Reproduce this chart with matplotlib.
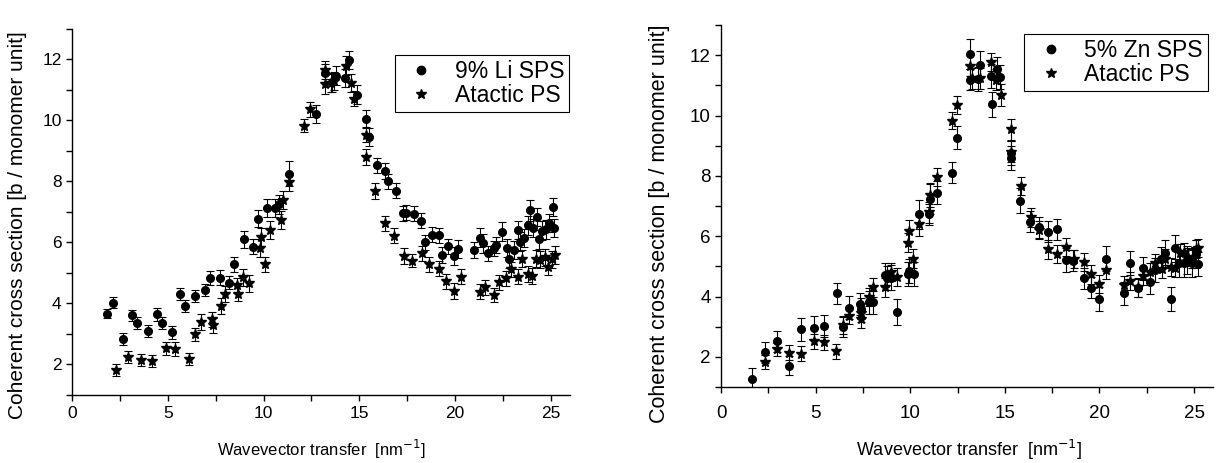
import matplotlib
matplotlib.use("Agg")
import matplotlib.pyplot as plt
from matplotlib.ticker import MultipleLocator
from matplotlib.lines import Line2D

plt.rcParams['font.family'] = ['Liberation Sans', 'DejaVu Sans']

# ---- left panel: 9% Li SPS vs atactic PS ----
li_q = [1.84, 2.14, 2.66, 3.14, 3.40, 3.96, 4.43, 4.69, 5.24, 5.64, 5.90, 6.42, 6.94, 7.19,
        7.73, 8.21, 8.45, 8.96, 9.43, 9.69, 10.17, 10.57, 10.82, 11.32, 12.73, 13.21, 13.56,
        13.80, 14.27, 14.46, 14.87, 15.33, 15.50, 15.92, 16.34, 16.51, 16.89, 17.27, 17.45,
        17.85, 18.23, 18.40, 18.77, 19.15, 19.32, 19.63, 19.96, 20.16, 20.97, 21.32, 21.46,
        21.70, 22.01, 22.15, 22.42, 22.69, 22.80, 23.05, 23.28, 23.40, 23.59, 23.80, 23.91,
        24.08, 24.29, 24.36, 24.53, 24.74, 24.91, 25.09, 25.16]
li_s = [3.67, 4.03, 2.83, 3.62, 3.35, 3.11, 3.64, 3.37, 3.05, 4.30, 3.91, 4.25, 4.45, 4.84,
        4.84, 4.68, 5.29, 6.10, 5.86, 6.78, 7.12, 7.12, 7.25, 8.26, 10.22, 11.56, 11.25,
        11.47, 11.40, 11.98, 10.85, 10.06, 9.46, 8.53, 8.34, 8.00, 7.70, 6.96, 6.98,
        6.94, 6.71, 6.01, 6.26, 6.24, 5.59, 5.87, 5.56, 5.79, 5.75, 6.16, 5.97,
        5.64, 5.81, 5.92, 6.36, 5.81, 5.45, 5.75, 6.41, 6.03, 6.14, 6.56, 7.05,
        6.47, 6.84, 6.10, 6.39, 6.43, 6.65, 7.17, 6.48]
li_err = [0.15, 0.18, 0.2, 0.18, 0.2, 0.2, 0.2, 0.2, 0.22, 0.2, 0.2, 0.2, 0.2, 0.22,
          0.25, 0.22, 0.25, 0.28, 0.25, 0.28, 0.3, 0.3, 0.3, 0.4, 0.3, 0.3, 0.3,
          0.3, 0.3, 0.3, 0.3, 0.3, 0.3, 0.25, 0.25, 0.25, 0.25, 0.25, 0.25,
          0.25, 0.25, 0.25, 0.25, 0.25, 0.25, 0.25, 0.3, 0.3, 0.25, 0.3, 0.3,
          0.25, 0.25, 0.25, 0.3, 0.3, 0.3, 0.3, 0.3, 0.3, 0.3, 0.3, 0.35,
          0.3, 0.3, 0.3, 0.3, 0.3, 0.3, 0.3, 0.3]

aps_q_l = [2.31, 2.90, 3.58, 4.20, 4.88, 5.40, 6.09, 6.42, 6.72, 7.31, 7.34, 7.78, 7.99,
           8.63, 8.65, 8.94, 9.22, 9.79, 9.84, 10.09, 10.36, 10.89, 10.99, 11.32, 12.13,
           12.41, 13.21, 13.22, 13.51, 13.68, 14.29, 14.55, 14.74, 15.33, 15.33, 15.82,
           16.33, 16.80, 17.31, 17.73, 18.25, 18.63, 19.15, 19.50, 19.96, 20.33, 21.28,
           21.58, 22.01, 22.27, 22.66, 22.92, 23.26, 23.51, 23.80, 24.00, 24.21, 24.42,
           24.70, 24.84, 25.05, 25.19]
aps_s_l = [1.81, 2.25, 2.16, 2.12, 2.53, 2.51, 2.17, 2.99, 3.39, 3.48, 3.29, 3.92, 4.31,
           4.60, 4.32, 4.86, 4.66, 5.81, 6.19, 5.28, 6.42, 6.74, 7.40, 7.98, 9.83,
           10.37, 11.65, 11.18, 11.23, 11.29, 11.80, 11.23, 10.72, 9.54, 8.80, 7.69,
           6.63, 6.22, 5.56, 5.40, 5.64, 5.28, 5.14, 4.73, 4.41, 4.88, 4.39,
           4.53, 4.28, 4.69, 4.83, 5.12, 4.88, 5.46, 4.97, 4.90, 5.47, 5.43,
           5.51, 5.21, 5.45, 5.59]
aps_err_l = [0.2, 0.2, 0.2, 0.2, 0.22, 0.22, 0.2, 0.22, 0.25, 0.25, 0.25, 0.25, 0.25,
             0.25, 0.25, 0.28, 0.28, 0.3, 0.3, 0.25, 0.3, 0.3, 0.3, 0.3, 0.22,
             0.25, 0.3, 0.3, 0.3, 0.3, 0.3, 0.3, 0.25, 0.25, 0.25, 0.25,
             0.25, 0.25, 0.25, 0.22, 0.25, 0.25, 0.25, 0.25, 0.25, 0.25, 0.25,
             0.25, 0.22, 0.25, 0.25, 0.25, 0.25, 0.28, 0.25, 0.25, 0.28, 0.28,
             0.28, 0.28, 0.28, 0.3]

# ---- right panel: 5% Zn SPS vs atactic PS ----
zn_q = [1.62, 2.33, 2.95, 3.62, 4.23, 4.89, 5.43, 6.12, 6.47, 6.77, 7.37, 7.40, 7.80, 8.02,
        8.69, 8.77, 9.01, 9.28, 9.86, 9.91, 10.18, 10.44, 10.99, 11.06, 11.41, 12.22, 12.49,
        13.18, 13.18, 13.60, 13.68, 14.26, 14.30, 14.58, 14.77, 15.35, 15.35, 15.81, 16.33,
        16.81, 17.30, 17.75, 18.21, 18.63, 19.16, 19.53, 19.98, 20.35, 21.30, 21.60, 22.02,
        22.30, 22.68, 22.95, 23.26, 23.47, 23.79, 24.00, 24.23, 24.47, 24.65, 24.88, 25.10,
        25.19]
zn_s = [1.25, 2.15, 2.52, 1.71, 2.91, 2.96, 3.03, 4.10, 3.00, 3.63, 3.75, 3.60, 3.81, 3.81,
        4.71, 4.60, 4.63, 3.49, 4.74, 4.85, 4.74, 6.73, 6.73, 7.23, 7.44, 8.11, 9.27,
        12.03, 11.18, 11.20, 11.68, 11.31, 10.37, 11.54, 11.27, 8.58, 8.75, 7.18, 6.48,
        6.29, 6.15, 6.23, 5.21, 5.19, 4.60, 4.29, 3.91, 5.26, 4.10, 5.10, 4.29,
        4.93, 4.47, 4.88, 5.23, 5.45, 3.91, 5.60, 5.10, 5.10, 5.21, 5.10, 5.41,
        5.08]
zn_err = [0.38, 0.35, 0.35, 0.32, 0.38, 0.38, 0.36, 0.36, 0.35, 0.38, 0.35, 0.35, 0.38, 0.38,
          0.4, 0.4, 0.4, 0.42, 0.4, 0.4, 0.4, 0.48, 0.35, 0.5, 0.38, 0.35, 0.38,
          0.5, 0.35, 0.4, 0.45, 0.4, 0.42, 0.4, 0.4, 0.4, 0.4, 0.42, 0.35,
          0.35, 0.35, 0.35, 0.4, 0.35, 0.35, 0.35, 0.4, 0.4, 0.38, 0.4, 0.3,
          0.38, 0.4, 0.4, 0.42, 0.42, 0.4, 0.45, 0.45, 0.45, 0.45, 0.45, 0.45,
          0.4]

aps_q_r = [2.33, 2.95, 3.62, 4.23, 4.92, 5.43, 6.10, 6.47, 6.75, 7.39, 7.41, 7.80, 8.02,
           8.69, 8.98, 9.29, 9.86, 9.93, 10.14, 10.44, 11.01, 11.06, 11.41, 12.22, 12.49,
           13.18, 13.26, 13.67, 14.28, 14.56, 14.79, 15.35, 15.35, 15.84, 16.37, 16.81,
           17.30, 17.75, 18.25, 18.65, 19.16, 19.53, 19.98, 20.35, 21.30, 21.60, 22.04,
           22.30, 22.68, 22.95, 23.30, 23.47, 23.79, 24.00, 24.26, 24.47, 24.70, 24.88,
           25.10, 25.23]
aps_s_r = [1.83, 2.25, 2.14, 2.11, 2.52, 2.48, 2.19, 3.05, 3.37, 3.44, 3.27, 3.97, 4.30,
           4.30, 4.82, 4.65, 5.79, 6.18, 5.26, 6.40, 6.79, 7.36, 7.97, 9.83, 10.35,
           11.65, 11.24, 11.23, 11.76, 11.18, 10.68, 9.54, 8.80, 7.67, 6.62, 6.20,
           5.56, 5.40, 5.65, 5.23, 5.13, 4.73, 4.40, 4.88, 4.38, 4.51, 4.30,
           4.68, 4.82, 5.10, 4.90, 5.26, 4.99, 4.95, 5.43, 5.48, 5.32, 5.26,
           5.57, 5.60]
aps_err_r = [0.22, 0.22, 0.25, 0.25, 0.25, 0.25, 0.25, 0.28, 0.28, 0.3, 0.3, 0.3, 0.3,
             0.3, 0.3, 0.3, 0.3, 0.35, 0.3, 0.38, 0.35, 0.4, 0.3, 0.28, 0.3,
             0.35, 0.35, 0.35, 0.3, 0.35, 0.35, 0.35, 0.35, 0.3, 0.3, 0.3,
             0.3, 0.3, 0.3, 0.3, 0.3, 0.3, 0.3, 0.3, 0.3, 0.3, 0.3,
             0.3, 0.3, 0.3, 0.3, 0.3, 0.3, 0.3, 0.3, 0.3, 0.3, 0.3,
             0.3, 0.3]

fig = plt.figure(figsize=(12.21, 4.63), dpi=100)
ax1 = fig.add_axes([0.0590, 0.1469, 0.4079, 0.7905])
ax2 = fig.add_axes([0.5905, 0.1641, 0.4029, 0.7819])

ebar = dict(ls='none', color='black', ecolor='black', elinewidth=0.8, capsize=3, capthick=0.8)


def style_axis(ax, tick_fs, xlab_fs, ylab_fs, tick_pad, xlab_xy, ylab_xy):
    ax.set_xlim(0, 26)
    ax.set_ylim(1, 13)
    ax.spines['top'].set_visible(False)
    ax.spines['right'].set_visible(False)
    ax.spines['left'].set_linewidth(1.0)
    ax.spines['bottom'].set_linewidth(1.0)
    ax.xaxis.set_major_locator(MultipleLocator(5))
    ax.xaxis.set_minor_locator(MultipleLocator(2.5))
    ax.yaxis.set_major_locator(MultipleLocator(2))
    ax.yaxis.set_minor_locator(MultipleLocator(1))
    ax.tick_params(which='both', direction='out', length=4, width=1.0, labelsize=tick_fs)
    ax.tick_params(axis='x', pad=tick_pad)
    ax.set_xlabel('Wavevector transfer  [nm$^{-1}$]', fontsize=xlab_fs)
    ax.set_ylabel('Coherent cross section [b / monomer unit]', fontsize=ylab_fs)
    ax.xaxis.set_label_coords(*xlab_xy)
    ax.yaxis.set_label_coords(*ylab_xy)


def add_legend(ax, label, anchor):
    handles = [Line2D([], [], ls='none', marker='o', color='black', ms=6),
               Line2D([], [], ls='none', marker='*', color='black', ms=7.5)]
    leg = ax.legend(handles, [label, 'Atactic PS'], loc='upper right', bbox_to_anchor=anchor,
                    borderaxespad=0, fontsize=16.5, fancybox=False, edgecolor='black',
                    handletextpad=0.5, borderpad=0.22, labelspacing=0.05, handlelength=1.9)
    leg.get_frame().set_linewidth(0.8)
    leg.get_frame().set_alpha(1)


ax1.errorbar(li_q, li_s, yerr=li_err, marker='o', ms=5.5, **ebar)
ax1.errorbar(aps_q_l, aps_s_l, yerr=aps_err_l, marker='*', ms=7.5, **ebar)
style_axis(ax1, 12.5, 12, 15, 4, (0.50, -0.117), (-0.090, 0.464))
add_legend(ax1, '9% Li SPS', (0.998, 0.929))

ax2.errorbar(zn_q, zn_s, yerr=zn_err, marker='o', ms=5.5, **ebar)
ax2.errorbar(aps_q_r, aps_s_r, yerr=aps_err_r, marker='*', ms=7.5, **ebar)
style_axis(ax2, 13.5, 13, 15.5, 9, (0.505, -0.141), (-0.104, 0.45))
add_legend(ax2, '5% Zn SPS', (0.990, 0.975))

fig.savefig('out.png', dpi=100)
